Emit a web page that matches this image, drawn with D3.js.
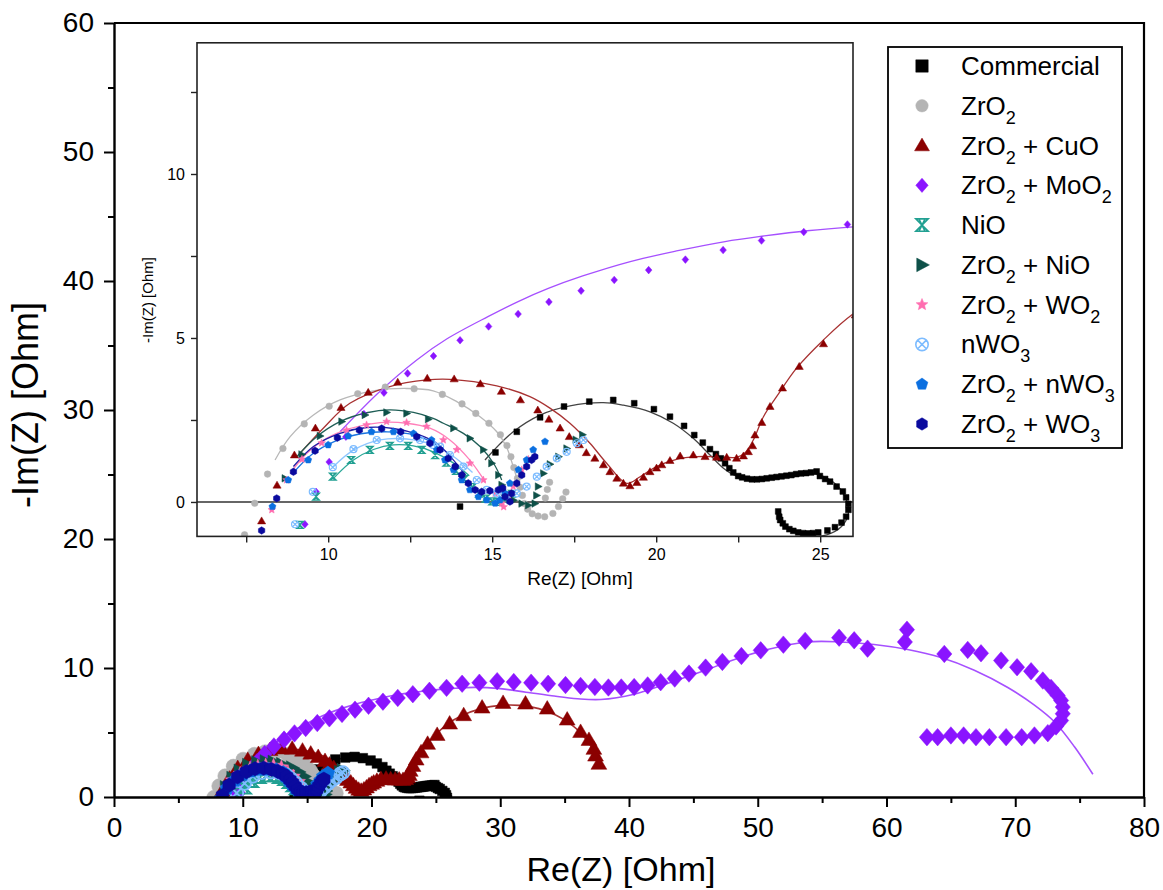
<!DOCTYPE html>
<html><head><meta charset="utf-8">
<script src="https://cdn.jsdelivr.net/npm/d3@7"></script>
<style>body{margin:0;background:#fff}svg{display:block;font-family:"Liberation Sans",Arial,sans-serif}</style>
</head><body>
<svg id="c" width="1163" height="890"></svg>
<script>
// ---------- DATA: [Re(Z), -Im(Z)] in Ohm ----------
const commercial = [[14.02,-0.14],[15.1,1.51],[15.75,2.14],[16.46,2.58],[17.19,2.91],[17.96,3.06],[18.69,3.11],[19.33,3.01],[19.93,2.83],[20.42,2.6],[20.85,2.32],[21.16,2.04],[21.42,1.81],[21.64,1.61],[21.82,1.46],[21.97,1.33],[22.1,1.18],[22.23,1.03],[22.35,0.9],[22.5,0.79],[22.62,0.75],[22.77,0.71],[22.92,0.69],[23.07,0.69],[23.22,0.7],[23.37,0.72],[23.52,0.74],[23.67,0.76],[23.82,0.78],[23.97,0.8],[24.12,0.82],[24.27,0.85],[24.42,0.87],[24.57,0.88],[24.72,0.9],[24.89,0.93],[24.99,0.79],[25.15,0.7],[25.3,0.62],[25.5,0.47],[25.69,0.32],[25.79,0.14],[25.86,-0.06],[25.86,-0.24],[25.79,-0.45],[25.65,-0.63],[25.45,-0.77],[25.22,-0.87],[24.94,-0.93],[24.78,-0.95],[24.64,-0.96],[24.48,-0.95],[24.33,-0.93],[24.18,-0.88],[24.06,-0.83],[23.94,-0.75],[23.86,-0.65],[23.78,-0.55],[23.75,-0.45],[23.72,-0.29]];
const zro2 = [[7.45,-1.0],[7.76,-0.04],[8.15,0.85],[8.62,1.63],[9.27,2.38],[10.03,2.92],[10.9,3.3],[11.74,3.5],[12.62,3.45],[13.48,3.28],[14.08,2.99],[14.5,2.7],[14.9,2.4],[15.25,2.05],[15.45,1.72],[15.57,1.38],[15.66,1.05],[15.77,0.72],[15.85,0.45],[15.92,0.2],[15.98,-0.05],[16.08,-0.22],[16.22,-0.36],[16.4,-0.43],[16.6,-0.45],[16.85,-0.35],[17.02,-0.14],[17.15,0.1],[17.25,0.3],[16.62,0.12],[16.68,0.38],[16.75,0.6]];
const zro2CuO = [[7.97,-0.58],[8.44,0.51],[8.97,1.43],[9.61,2.25],[10.39,2.88],[11.22,3.34],[12.12,3.65],[13.02,3.77],[13.84,3.75],[14.64,3.6],[15.28,3.37],[15.86,3.11],[16.39,2.8],[16.73,2.52],[17.07,2.25],[17.35,1.99],[17.66,1.74],[17.87,1.5],[18.13,1.33],[18.39,1.13],[18.59,0.92],[18.8,0.72],[19.0,0.57],[19.2,0.49],[19.41,0.59],[19.61,0.75],[19.81,0.92],[20.01,1.03],[20.17,1.13],[20.42,1.26],[20.73,1.4],[21.13,1.43],[21.49,1.38],[21.84,1.36],[22.15,1.36],[22.45,1.33],[22.66,1.4],[22.81,1.53],[22.94,1.71],[23.01,2.04],[23.22,2.42],[23.47,2.91],[23.85,3.47],[24.36,4.13],[25.1,4.82],[26.07,5.7],[27.16,6.35],[28.59,6.94],[30.22,7.3],[31.96,7.25],[33.65,6.86],[35.2,6.01],[36.24,5.05],[36.89,4.43],[37.27,3.74],[37.4,3.22],[37.66,2.58]];
const zro2MoO2 = [[9.29,-0.68],[9.63,0.31],[10.03,1.22],[10.54,1.99],[11.09,2.68],[11.7,3.33],[12.42,3.92],[13.21,4.45],[14.02,4.93],[14.89,5.35],[15.79,5.73],[16.73,6.1],[17.71,6.44],[18.72,6.77],[19.77,7.07],[20.89,7.39],[22.04,7.68],[23.21,7.97],[24.5,8.23],[25.83,8.46],[27.04,8.78],[28.38,8.86],[29.76,8.98],[31.05,8.91],[32.4,8.86],[33.72,8.78],[35.07,8.68],[36.24,8.61],[37.35,8.53],[38.4,8.49],[39.4,8.49],[40.4,8.52],[41.45,8.65],[42.46,8.9],[43.55,9.18],[44.66,9.57],[45.95,10.03],[47.25,10.47],[48.73,10.93],[50.23,11.37],[51.99,11.81],[53.68,12.1],[56.32,12.35],[57.49,12.15],[58.53,11.5],[61.43,12.02],[61.59,12.97],[64.49,11.09],[66.31,11.4],[67.34,11.14],[68.9,10.58],[70.14,10.06],[71.23,9.75],[72.14,9.03],[72.78,8.46],[73.3,7.87],[73.56,7.48],[73.69,6.97],[73.69,6.45],[73.56,5.93],[73.17,5.47],[72.53,4.95],[71.49,4.77],[70.5,4.64],[69.29,4.64],[67.99,4.64],[66.95,4.64],[65.99,4.77],[65.0,4.77],[63.97,4.64],[63.14,4.64]];
const nio = [[9.14,-0.7],[9.63,0.16],[10.14,0.77],[10.7,1.28],[11.27,1.59],[11.88,1.71],[12.44,1.71],[12.85,1.59],[13.26,1.43],[13.6,1.2],[13.9,0.95],[14.15,0.7],[14.4,0.45],[14.6,0.25],[14.8,0.1],[15.0,0.02],[15.2,0.0],[15.4,0.1],[15.6,0.25]];
const zro2NiO = [[8.68,0.72],[9.19,1.45],[9.75,2.01],[10.41,2.45],[11.12,2.65],[11.78,2.73],[12.39,2.7],[13.05,2.52],[13.82,2.25],[14.32,1.94],[14.73,1.59],[14.98,1.18],[15.19,0.82],[15.29,0.52],[15.45,0.25],[15.65,0.05],[15.9,-0.05],[16.1,-0.1],[16.3,-0.05],[16.35,0.2],[16.4,0.47],[16.56,0.87],[16.76,1.15],[17.02,1.38],[17.27,1.63],[17.55,1.9],[17.75,2.05]];
const zro2WO2 = [[8.28,-0.24],[8.73,0.67],[9.2,1.3],[9.8,1.8],[10.56,2.19],[11.17,2.35],[11.78,2.45],[12.39,2.42],[13.0,2.3],[13.51,1.89],[13.92,1.59],[14.32,1.18],[14.73,0.67],[15.09,0.26],[15.29,-0.04],[15.35,-0.15],[15.5,0.2],[15.64,0.47],[15.9,0.98],[16.1,1.3]];
const nwo3 = [[8.99,-0.68],[9.53,0.31],[10.14,1.06],[10.77,1.61],[11.48,1.89],[12.19,1.94],[12.8,1.89],[13.2,1.74],[13.41,1.69],[13.71,1.43],[14.12,1.08],[14.53,0.67],[14.83,0.37],[15.14,0.26],[15.44,0.21],[15.75,0.26],[16.05,0.47],[16.36,0.77],[16.66,1.08],[16.97,1.33],[17.27,1.53],[17.58,1.79],[17.78,1.89]];
const zro2nWO3 = [[8.3,-0.14],[8.78,0.67],[9.39,1.28],[10.0,1.74],[10.61,2.01],[11.32,2.14],[11.99,2.14],[12.6,2.09],[13.15,1.89],[13.31,1.59],[13.56,1.28],[13.82,0.98],[14.07,0.67],[14.32,0.37],[14.58,0.16],[14.83,0.06],[15.09,-0.04],[15.24,0.06],[15.39,0.26],[15.54,0.57],[15.8,0.98],[16.05,1.28],[16.25,1.59],[16.61,1.84]];
const zro2WO3 = [[7.97,-0.87],[8.43,0.11],[8.94,0.92],[9.6,1.56],[10.28,1.96],[10.95,2.19],[11.63,2.24],[12.21,2.14],[12.7,1.99],[13.1,1.79],[13.41,1.59],[13.66,1.33],[13.87,1.08],[14.07,0.82],[14.27,0.57],[14.48,0.37],[14.68,0.31],[14.93,0.34],[15.19,0.37],[15.32,0.42],[15.39,0.16],[15.54,0.01],[15.59,0.26],[15.75,0.57],[15.9,0.82],[16.05,1.08],[16.2,1.28],[16.3,1.38]];

// fitted curves
const commercialFit = [[14.78,1.28],[15.64,2.14],[16.46,2.65],[17.37,2.93],[18.39,3.03],[19.0,2.95],[19.81,2.75],[20.52,2.4],[21.13,1.94],[21.64,1.43],[22.05,1.03],[22.45,0.79],[22.96,0.72],[23.67,0.79],[24.38,0.85],[24.99,0.82],[25.5,0.52],[25.8,0.06],[25.86,-0.35],[25.65,-0.75],[25.2,-1.0],[24.64,-1.04],[24.08,-0.85],[23.77,-0.45]];
const zro2Fit = [[8.38,1.28],[8.84,1.99],[9.55,2.65],[10.36,3.11],[11.38,3.39],[12.39,3.46],[13.2,3.39],[13.92,3.06],[14.63,2.6],[15.14,2.14],[15.44,1.67],[15.64,1.08],[15.77,0.67]];
const zro2CuOFit = [[9.09,1.43],[9.85,2.25],[10.66,3.01],[11.88,3.52],[13.0,3.72],[13.71,3.74],[15.14,3.54],[16.15,3.21],[16.76,2.86],[17.37,2.4],[17.98,1.79],[18.49,1.18],[19.1,0.57],[19.51,0.77],[20.01,1.08],[20.62,1.3],[21.24,1.38],[21.84,1.38],[22.45,1.36],[22.71,1.5],[22.96,1.89],[23.27,2.6],[23.67,3.21],[24.28,4.08],[25.1,4.94],[25.96,5.7],[27.0,6.3],[28.5,6.85],[30.0,7.1],[31.5,7.1],[33.0,6.85],[34.3,6.35],[35.4,5.7],[36.3,4.9],[37.0,4.0],[37.3,3.5]];
const zro2MoO2Fit = [[10.36,2.14],[11.5,3.3],[12.7,4.33],[13.6,4.96],[14.87,5.65],[15.79,6.11],[16.71,6.51],[17.76,6.89],[19.21,7.33],[20.66,7.66],[22.1,7.94],[23.29,8.11],[24.6,8.27],[26.16,8.4],[28.0,8.5],[30.0,8.4],[32.0,8.12],[34.0,7.85],[36.0,7.62],[37.8,7.56],[40.4,7.97],[43.0,8.8],[45.6,9.7],[48.2,10.66],[50.75,11.43],[53.87,12.02],[56.45,12.02],[59.04,11.82],[61.64,11.43],[64.23,10.81],[66.82,9.83],[69.42,8.49],[71.49,7.12],[73.04,5.83],[74.6,3.89],[76.03,1.76]];
const nioFit = [[10.16,0.72],[10.77,1.28],[11.38,1.6],[11.99,1.74],[12.6,1.71],[13.2,1.53],[13.8,1.2],[14.3,0.8]];
const zro2NiOFit = [[9.04,1.38],[9.65,1.99],[10.36,2.45],[11.17,2.72],[11.88,2.81],[12.6,2.73],[13.2,2.55],[13.51,2.4],[14.12,2.09],[14.63,1.69],[15.04,1.18],[15.29,0.67]];
const zro2WO2Fit = [[8.84,0.87],[9.34,1.48],[9.95,1.94],[10.66,2.24],[11.58,2.42],[12.39,2.4],[13.1,2.25],[13.7,1.9],[14.3,1.3],[14.8,0.6]];
const nwo3Fit = [[10.16,1.08],[10.77,1.58],[11.58,1.89],[12.39,1.92],[13.2,1.74],[13.8,1.4],[14.4,0.9]];
const zro2nWO3Fit = [[8.9,0.85],[9.5,1.45],[10.2,1.85],[11.0,2.08],[11.8,2.14],[12.6,2.05],[13.3,1.75]];
const zro2WO3Fit = [[8.94,1.08],[9.55,1.69],[10.36,2.09],[11.17,2.27],[11.99,2.24],[12.8,2.04],[13.31,1.79],[13.8,1.3],[14.2,0.8]];

const legendLabels = [
  [["Commercial",0]],
  [["ZrO",0],["2",1]],
  [["ZrO",0],["2",1],[" + CuO",0]],
  [["ZrO",0],["2",1],[" + MoO",0],["2",1]],
  [["NiO",0]],
  [["ZrO",0],["2",1],[" + NiO",0]],
  [["ZrO",0],["2",1],[" + WO",0],["2",1]],
  [["nWO",0],["3",1]],
  [["ZrO",0],["2",1],[" + nWO",0],["3",1]],
  [["ZrO",0],["2",1],[" + WO",0],["3",1]]
];
const mainXTicks = [0,10,20,30,40,50,60,70,80];
const mainYTicks = [0,10,20,30,40,50,60];
const insetXTicks = [10,15,20,25];
const insetYTicks = [0,5,10];

// ---------- STYLE ----------
const series = [
  {pts: commercial, fit: commercialFit, shape:"square", color:"#000000", fitColor:"#444444", rm:4.8, ri:2.9},
  {pts: zro2, fit: zro2Fit, shape:"circle", color:"#b4b4b4", fitColor:"#b8b8b8", rm:7.2, ri:3.3},
  {pts: zro2CuO, fit: zro2CuOFit, shape:"triangle", color:"#8b0000", fitColor:"#a83232", rm:6.6, ri:3.4},
  {pts: zro2MoO2, fit: zro2MoO2Fit, shape:"diamond", color:"#8a14ff", fitColor:"#a650ff", rm:7.6, ri:3.3},
  {pts: nio, fit: nioFit, shape:"hourglass", color:"#22a092", fitColor:"#2aa898", rm:6.5, ri:3.5},
  {pts: zro2NiO, fit: zro2NiOFit, shape:"right", color:"#0e5048", fitColor:"#1f5e56", rm:6.5, ri:3.4},
  {pts: zro2WO2, fit: zro2WO2Fit, shape:"star", color:"#ff6eb0", fitColor:"#ff80ba", rm:7.5, ri:4.0},
  {pts: nwo3, fit: nwo3Fit, shape:"circx", color:"#7dbcff", fitColor:"#8ec6ff", rm:6.5, ri:3.5},
  {pts: zro2nWO3, fit: zro2nWO3Fit, shape:"pentagon", color:"#0b6fe0", fitColor:"#1a74e0", rm:7.2, ri:3.7},
  {pts: zro2WO3, fit: zro2WO3Fit, shape:"hexagon", color:"#0a0a9e", fitColor:"#2020a8", rm:7.2, ri:3.7}
];

function poly(n, r, rot) {
  let s = "";
  for (let i = 0; i < n; i++) {
    const a = rot + i * 2 * Math.PI / n;
    s += (i ? "L" : "M") + (r * Math.cos(a)).toFixed(2) + "," + (r * Math.sin(a)).toFixed(2);
  }
  return s + "Z";
}
function shapePath(t, r) {
  switch (t) {
    case "square": return `M${-r},${-r}H${r}V${r}H${-r}Z`;
    case "circle": return `M${r},0A${r},${r} 0 1,1 ${-r},0A${r},${r} 0 1,1 ${r},0Z`;
    case "triangle": return `M0,${-r*1.2}L${r*1.2},${r*0.85}L${-r*1.2},${r*0.85}Z`;
    case "diamond": return `M0,${-r*1.15}L${r},0L0,${r*1.15}L${-r},0Z`;
    case "right": return `M${r*1.2},0L${-r*0.85},${-r*1.1}L${-r*0.85},${r*1.1}Z`;
    case "star": {
      let s = "";
      for (let i = 0; i < 10; i++) {
        const a = -Math.PI/2 + i*Math.PI/5, rr = i%2 ? r*0.45 : r;
        s += (i ? "L" : "M") + (rr*Math.cos(a)).toFixed(2) + "," + (rr*Math.sin(a)).toFixed(2);
      }
      return s + "Z";
    }
    case "pentagon": return poly(5, r, -Math.PI/2);
    case "hexagon": return poly(6, r, -Math.PI/2);
    case "hourglass": return `M${-r},${-r}H${r}L${-r},${r}H${r}Z M${-r*0.5},${-r}L${r*0.5},${r}M${r*0.5},${-r}L${-r*0.5},${r}`;
    case "circx": { const q = r*0.7; return `M${r},0A${r},${r} 0 1,1 ${-r},0A${r},${r} 0 1,1 ${r},0Z M${-q},${-q}L${q},${q}M${q},${-q}L${-q},${q}`; }
  }
}
const strokeOnly = s => s === "hourglass" || s === "circx";

const svg = d3.select("#c");

function drawMarks(g, x, y, rKey, lw) {
  const line = d3.line().x(d => x(d[0])).y(d => y(d[1])).curve(d3.curveCatmullRom.alpha(0.5));
  series.forEach(s => {
    g.append("path").attr("d", line(s.fit)).attr("fill", "none")
      .attr("stroke", s.fitColor).attr("stroke-width", lw);
  });
  series.forEach(s => {
    const r = s[rKey];
    g.selectAll(null).data(s.pts).enter().append("path")
      .attr("transform", d => `translate(${x(d[0])},${y(d[1])})`)
      .attr("d", shapePath(s.shape, r))
      .attr("fill", strokeOnly(s.shape) ? "none" : s.color)
      .attr("stroke", s.color)
      .attr("stroke-width", strokeOnly(s.shape) ? (rKey === "rm" ? 1.8 : 1.2) : 0.5);
  });
}

// ---------- MAIN PLOT ----------
const X0 = 114, X1 = 1144, Y0 = 797, Y1 = 23;
const x = d3.scaleLinear().domain([0, 80]).range([X0, X1]);
const y = d3.scaleLinear().domain([0, 60]).range([Y0, Y1]);

svg.append("clipPath").attr("id", "mainclip").append("rect")
  .attr("x", X0).attr("y", Y1).attr("width", X1 - X0).attr("height", Y0 - Y1);
const gMain = svg.append("g").attr("clip-path", "url(#mainclip)");
drawMarks(gMain, x, y, "rm", 1.6);

// frame
svg.append("path").attr("d", `M${X0},${Y1}H${X1}V${Y0}`).attr("fill", "none").attr("stroke", "#000").attr("stroke-width", 2.2);

const xAx = svg.append("g").attr("transform", `translate(0,${Y0})`)
  .call(d3.axisBottom(x).tickValues(mainXTicks).tickSize(10).tickPadding(10).tickSizeOuter(0));
svg.append("g").attr("transform", `translate(0,${Y0})`)
  .call(d3.axisBottom(x).tickValues(d3.range(5, 80, 10)).tickSize(6).tickFormat("").tickSizeOuter(0))
  .select(".domain").remove();
const yAx = svg.append("g").attr("transform", `translate(${X0},0)`)
  .call(d3.axisLeft(y).tickValues(mainYTicks).tickSize(10).tickPadding(10).tickSizeOuter(0));
svg.append("g").attr("transform", `translate(${X0},0)`)
  .call(d3.axisLeft(y).tickValues(d3.range(5, 60, 10)).tickSize(6).tickFormat("").tickSizeOuter(0))
  .select(".domain").remove();
[xAx, yAx].forEach(a => {
  a.select(".domain").attr("stroke-width", 2.4);
  a.selectAll(".tick text").attr("font-size", 28).attr("font-family", "Liberation Sans, Arial, sans-serif").attr("fill", "#000");
});
svg.selectAll(".tick line").attr("stroke-width", 2);

svg.append("text").attr("x", 621).attr("y", 881).attr("text-anchor", "middle")
  .attr("font-size", 34).text("Re(Z) [Ohm]");
svg.append("text").attr("transform", "translate(38,405) rotate(-90)").attr("text-anchor", "middle")
  .attr("font-size", 36).text("-Im(Z) [Ohm]");

// ---------- INSET ----------
const IX0 = 197, IX1 = 853, IY0 = 536.4, IY1 = 42.8;
const xi = d3.scaleLinear().domain([6, 26]).range([IX0, IX1]);
const yi = d3.scaleLinear().domain([-1.05, 14]).range([IY0, IY1]);
svg.append("rect").attr("x", IX0).attr("y", IY1).attr("width", IX1 - IX0).attr("height", IY0 - IY1)
  .attr("fill", "#fff");
svg.append("clipPath").attr("id", "insclip").append("rect")
  .attr("x", IX0).attr("y", IY1).attr("width", IX1 - IX0).attr("height", IY0 - IY1);
const gIns = svg.append("g").attr("clip-path", "url(#insclip)");
gIns.append("line").attr("x1", IX0).attr("x2", IX1).attr("y1", yi(0)).attr("y2", yi(0))
  .attr("stroke", "#333").attr("stroke-width", 1.6);
drawMarks(gIns, xi, yi, "ri", 1.3);
svg.append("rect").attr("x", IX0).attr("y", IY1).attr("width", IX1 - IX0).attr("height", IY0 - IY1)
  .attr("fill", "none").attr("stroke", "#222").attr("stroke-width", 1.6);

const ixAx = svg.append("g").attr("transform", `translate(0,${IY0})`)
  .call(d3.axisBottom(xi).tickValues(d3.range(7.5, 26, 2.5)).tickSize(6).tickPadding(6).tickSizeOuter(0)
    .tickFormat(d => insetXTicks.includes(d) ? d : ""));
const iyAx = svg.append("g").attr("transform", `translate(${IX0},0)`)
  .call(d3.axisLeft(yi).tickValues(d3.range(0, 14, 2.5)).tickSize(6).tickPadding(6).tickSizeOuter(0)
    .tickFormat(d => insetYTicks.includes(d) ? d : ""));
[ixAx, iyAx].forEach(a => {
  a.select(".domain").remove();
  a.selectAll(".tick line").attr("stroke-width", 1.4).attr("stroke", "#222");
  a.selectAll(".tick text").attr("font-size", 16).attr("font-family", "Liberation Sans, Arial, sans-serif").attr("fill", "#000");
});
svg.append("text").attr("x", 580).attr("y", 585).attr("text-anchor", "middle")
  .attr("font-size", 19).text("Re(Z) [Ohm]");
svg.append("text").attr("transform", "translate(153,300) rotate(-90)").attr("text-anchor", "middle")
  .attr("font-size", 15).text("-Im(Z) [Ohm]");

// ---------- LEGEND ----------
const LX0 = 888, LY0 = 47, LX1 = 1122, LY1 = 448;
svg.append("rect").attr("x", LX0).attr("y", LY0).attr("width", LX1 - LX0).attr("height", LY1 - LY0)
  .attr("fill", "#fff").attr("stroke", "#000").attr("stroke-width", 1.8);
const ly = d3.scalePoint().domain(d3.range(series.length)).range([66, 424]);
series.forEach((s, i) => {
  const cy = ly(i);
  svg.append("path").attr("transform", `translate(922,${cy})`)
    .attr("d", shapePath(s.shape, 6.2))
    .attr("fill", strokeOnly(s.shape) ? "none" : s.color)
    .attr("stroke", s.color).attr("stroke-width", strokeOnly(s.shape) ? 1.6 : 0.5);
  const t = svg.append("text").attr("x", 961).attr("y", cy + 9).attr("font-size", 26);
  let sub = false;
  legendLabels[i].forEach(([txt, isSub]) => {
    const sp = t.append("tspan").text(txt);
    if (isSub && !sub) { sp.attr("dy", 9).attr("font-size", 18); sub = true; }
    else if (isSub) { sp.attr("font-size", 18); }
    else if (!isSub && sub) { sp.attr("dy", -9); sub = false; }
  });
});
</script>
</body></html>
